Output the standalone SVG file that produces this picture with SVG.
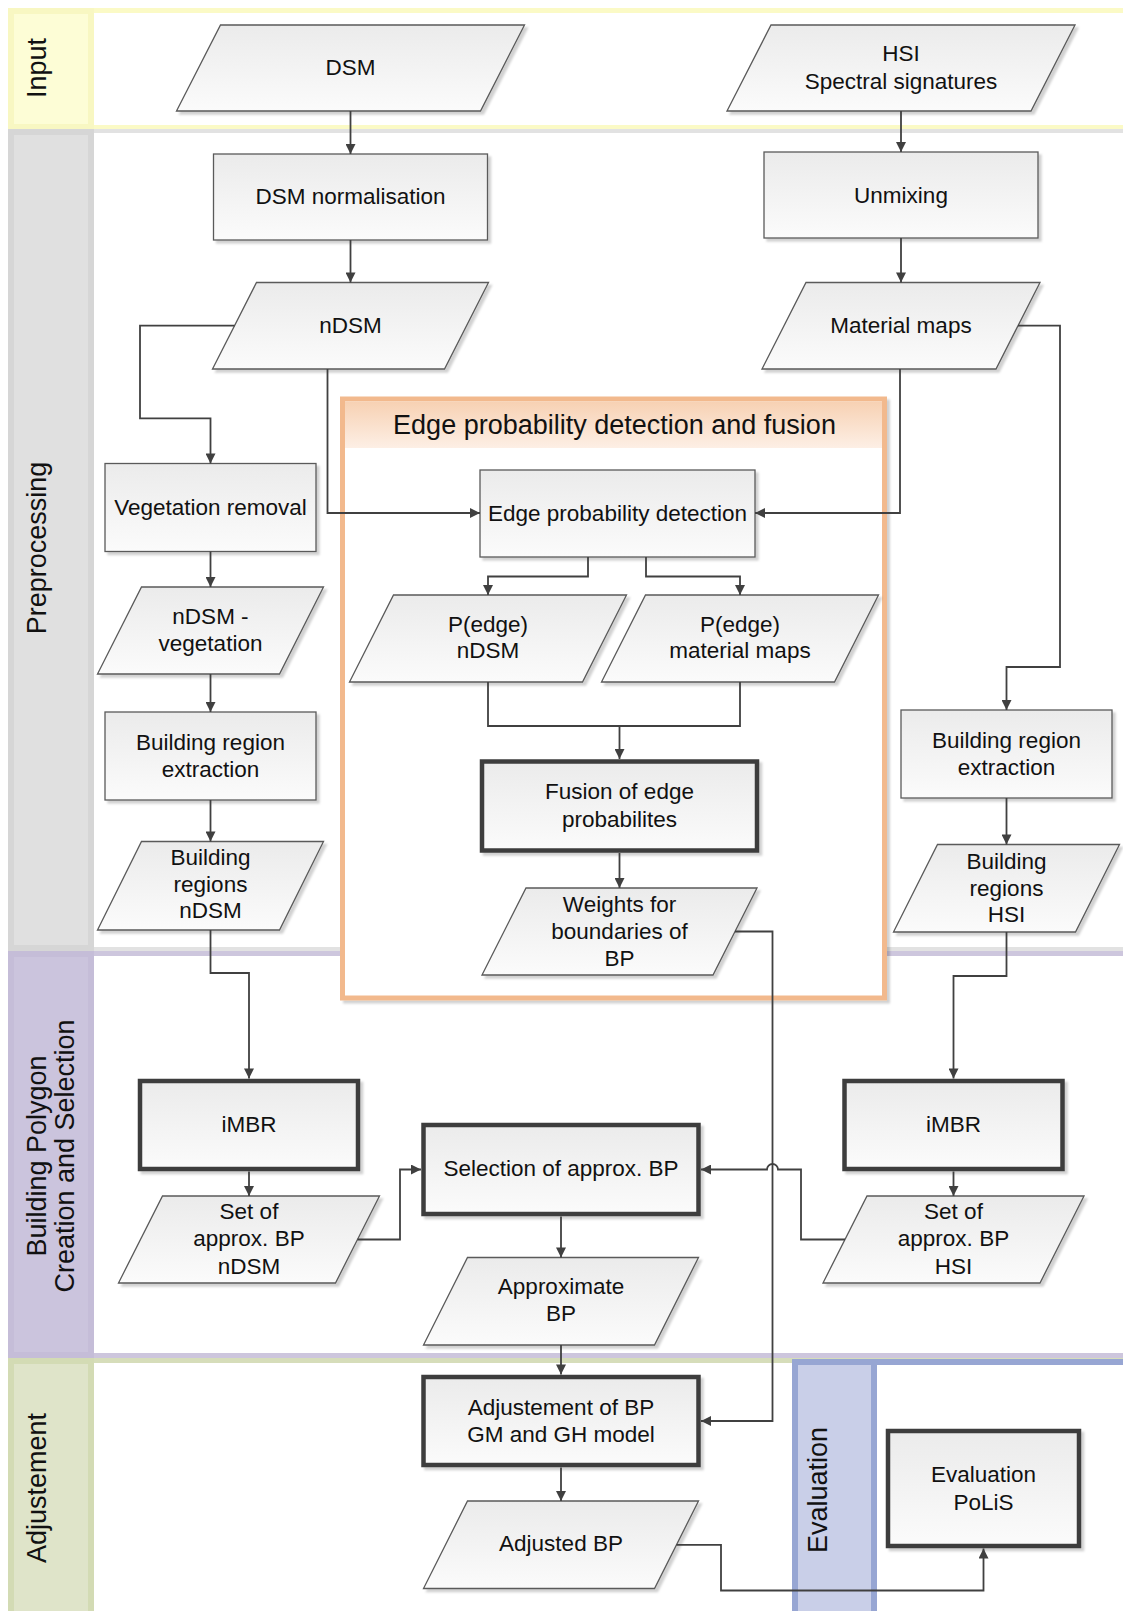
<svg xmlns="http://www.w3.org/2000/svg" width="1123" height="1611" viewBox="0 0 1123 1611">
<defs>
<linearGradient id="gf" x1="0" y1="0" x2="0" y2="1"><stop offset="0" stop-color="#ebebeb"/><stop offset="1" stop-color="#fbfbfb"/></linearGradient>
<linearGradient id="gh" x1="0" y1="0" x2="0" y2="1"><stop offset="0" stop-color="#f7d1b3"/><stop offset="1" stop-color="#fdefe5"/></linearGradient>
<filter id="sh" x="-5%" y="-5%" width="115%" height="120%"><feDropShadow dx="3" dy="3" stdDeviation="1" flood-color="#000" flood-opacity="0.18"/></filter>
<marker id="ah" viewBox="0 0 10 10" refX="10" refY="5" markerWidth="11" markerHeight="10" orient="auto" markerUnits="userSpaceOnUse"><path d="M0,0 L10,5 L0,10 z" fill="#404040"/></marker>
</defs>
<style>
.t{font-family:"Liberation Sans",Arial,sans-serif;font-size:22.5px;fill:#111;text-anchor:middle}
.lt{font-family:"Liberation Sans",Arial,sans-serif;font-size:27px;fill:#111;text-anchor:middle}
.n{fill:url(#gf);stroke:#5a5a5a;stroke-width:1.3;filter:url(#sh)}
.k{fill:url(#gf);stroke:#3d3d3d;stroke-width:4.5;filter:url(#sh)}
.c{fill:none;stroke:#404040;stroke-width:1.8}
.a{marker-end:url(#ah)}
</style>
<rect width="1123" height="1611" fill="#fff"/>
<g id="lanes">
<g id="lane-input">
<rect x="10.5" y="10.5" width="1125" height="117" fill="#fff" stroke="#fbfac6" stroke-width="5"/>
<rect x="11" y="11" width="80" height="116" fill="#fdfdd6" stroke="#f8f7c2" stroke-width="6"/>
<text class="lt" transform="translate(45.5,68) rotate(-90)">Input</text>
</g>
<g id="lane-pre">
<rect x="10.5" y="131" width="1125" height="818" fill="#fff" stroke="#e2e2e2" stroke-width="4"/>
<rect x="11" y="132" width="80" height="816" fill="#e0e0e0" stroke="#d6d6d6" stroke-width="6"/>
<text class="lt" transform="translate(45.5,548) rotate(-90)">Preprocessing</text>
</g>
<g id="lane-bp">
<rect x="10.5" y="953.5" width="1125" height="402" fill="#fff" stroke="#cdc6dd" stroke-width="5"/>
<rect x="11" y="954" width="80" height="401" fill="#cbc4dd" stroke="#c5bdd8" stroke-width="6"/>
<text class="lt" transform="translate(45.5,1156) rotate(-90)">Building Polygon</text>
<text class="lt" transform="translate(74,1156) rotate(-90)">Creation and Selection</text>
</g>
<g id="lane-adj">
<rect x="10.5" y="1360.5" width="1125" height="260" fill="#fff" stroke="#d6ddba" stroke-width="5"/>
<rect x="11" y="1361" width="80" height="260" fill="#dfe4c9" stroke="#d3dbb4" stroke-width="6"/>
<text class="lt" transform="translate(45.5,1488) rotate(-90)">Adjustement</text>
</g>
<g id="lane-eval">
<rect x="795" y="1362" width="340" height="260" fill="#fff" stroke="#97a6d3" stroke-width="6"/>
<rect x="795" y="1362" width="79" height="260" fill="#c9cfe8" stroke="#97a6d3" stroke-width="6"/>
<text class="lt" transform="translate(826.5,1490) rotate(-90)">Evaluation</text>
</g>
</g>
<g id="edge-group">
<rect x="342.5" y="399" width="542" height="599" fill="#fff" stroke="#f2b98d" stroke-width="5" filter="url(#sh)"/>
<rect x="345" y="401.5" width="537" height="46.5" fill="url(#gh)"/>
<text class="lt" x="614.5" y="434">Edge probability detection and fusion</text>
</g>
<g id="nodes">
<g id="dsm"><polygon class="n" points="220.5,25 524.5,25 480.5,111 176.5,111"/><text class="t" x="350.5" y="74.7">DSM</text></g>
<g id="hsi"><polygon class="n" points="771,25 1075,25 1031,111 727,111"/><text class="t" x="901" y="61.3">HSI</text><text class="t" x="901" y="89.1">Spectral signatures</text></g>
<g id="dsm-norm"><rect class="n" x="213.5" y="154" width="274" height="86"/><text class="t" x="350.5" y="204.2">DSM normalisation</text></g>
<g id="unmixing"><rect class="n" x="764" y="152" width="274" height="86"/><text class="t" x="901" y="203.1">Unmixing</text></g>
<g id="ndsm"><polygon class="n" points="256.5,282.5 488.5,282.5 444.5,369 212.5,369"/><text class="t" x="350.5" y="332.6">nDSM</text></g>
<g id="material-maps"><polygon class="n" points="806,282.5 1040,282.5 996,369 762,369"/><text class="t" x="901" y="332.6">Material maps</text></g>
<g id="edge-detect"><rect class="n" x="480" y="470" width="275" height="87"/><text class="t" x="617.5" y="520.6">Edge probability detection</text></g>
<g id="pedge-ndsm"><polygon class="n" points="393.5,595 626.5,595 582.5,682 349.5,682"/><text class="t" x="488" y="631.6">P(edge)</text><text class="t" x="488" y="658.3">nDSM</text></g>
<g id="pedge-mm"><polygon class="n" points="645.5,595 878.5,595 834.5,682 601.5,682"/><text class="t" x="740" y="631.6">P(edge)</text><text class="t" x="740" y="658.3">material maps</text></g>
<g id="fusion"><rect class="k" x="482" y="761.5" width="275" height="89"/><text class="t" x="619.5" y="799.1">Fusion of edge</text><text class="t" x="619.5" y="826.8">probabilites</text></g>
<g id="weights"><polygon class="n" points="526,888 757,888 713,975 482,975"/><text class="t" x="619.5" y="912.1">Weights for</text><text class="t" x="619.5" y="938.9">boundaries of</text><text class="t" x="619.5" y="965.5">BP</text></g>
<g id="veg-removal"><rect class="n" x="105" y="463.5" width="211" height="88"/><text class="t" x="210.5" y="514.5">Vegetation removal</text></g>
<g id="ndsm-veg"><polygon class="n" points="141.5,587 323.5,587 279.5,674 97.5,674"/><text class="t" x="210.5" y="624.4">nDSM -</text><text class="t" x="210.5" y="651.1">vegetation</text></g>
<g id="bre-left"><rect class="n" x="105" y="712" width="211" height="88"/><text class="t" x="210.5" y="749.8">Building region</text><text class="t" x="210.5" y="776.5">extraction</text></g>
<g id="br-ndsm"><polygon class="n" points="141.5,841.5 323.5,841.5 279.5,930 97.5,930"/><text class="t" x="210.5" y="864.9">Building</text><text class="t" x="210.5" y="891.6">regions</text><text class="t" x="210.5" y="918.3">nDSM</text></g>
<g id="bre-right"><rect class="n" x="901" y="710" width="211" height="88"/><text class="t" x="1006.5" y="747.7">Building region</text><text class="t" x="1006.5" y="775.4">extraction</text></g>
<g id="br-hsi"><polygon class="n" points="937.5,844.5 1119.5,844.5 1075.5,932 893.5,932"/><text class="t" x="1006.5" y="868.9">Building</text><text class="t" x="1006.5" y="895.7">regions</text><text class="t" x="1006.5" y="922.4">HSI</text></g>
<g id="imbr-left"><rect class="k" x="140" y="1081" width="218" height="88"/><text class="t" x="249" y="1132">iMBR</text></g>
<g id="imbr-right"><rect class="k" x="844.5" y="1081" width="218" height="88"/><text class="t" x="953.5" y="1132">iMBR</text></g>
<g id="selection"><rect class="k" x="423.5" y="1125" width="275" height="89"/><text class="t" x="561" y="1176.2">Selection of approx. BP</text></g>
<g id="set-ndsm"><polygon class="n" points="162.5,1196 379.5,1196 335.5,1283 118.5,1283"/><text class="t" x="249" y="1219.3">Set of</text><text class="t" x="249" y="1246">approx. BP</text><text class="t" x="249" y="1273.8">nDSM</text></g>
<g id="set-hsi"><polygon class="n" points="867,1196 1084,1196 1040,1283 823,1283"/><text class="t" x="953.5" y="1219.3">Set of</text><text class="t" x="953.5" y="1246">approx. BP</text><text class="t" x="953.5" y="1273.8">HSI</text></g>
<g id="approx-bp"><polygon class="n" points="467.5,1257.5 698.5,1257.5 654.5,1345 423.5,1345"/><text class="t" x="561" y="1294.3">Approximate</text><text class="t" x="561" y="1321">BP</text></g>
<g id="adjustement"><rect class="k" x="423.5" y="1377" width="275" height="88"/><text class="t" x="561" y="1414.5">Adjustement of BP</text><text class="t" x="561" y="1442.3">GM and GH model</text></g>
<g id="adjusted-bp"><polygon class="n" points="467.5,1501 698.5,1501 654.5,1588.5 423.5,1588.5"/><text class="t" x="561" y="1551.2">Adjusted BP</text></g>
<g id="polis"><rect class="k" x="888" y="1431" width="191" height="115"/><text class="t" x="983.5" y="1482.4">Evaluation</text><text class="t" x="983.5" y="1510.1">PoLiS</text></g>
</g>
<g id="connectors">
<path class="c a" d="M350.5,111 V154"/>
<path class="c a" d="M901,111 V152"/>
<path class="c a" d="M350.5,240 V282.5"/>
<path class="c a" d="M901,238 V282.5"/>
<path class="c a" d="M234.5,325.7 H140 V418.3 H210.5 V463.5"/>
<path class="c a" d="M327.5,369 V513 H480"/>
<path class="c a" d="M900,369 V513 H755"/>
<path class="c a" d="M1018,325.7 H1060 V667 H1006.5 V710"/>
<path class="c a" d="M588,557 V576.5 H488 V595"/>
<path class="c a" d="M646,557 V576.5 H740 V595"/>
<path class="c" d="M488,682 V726 H740 V682"/>
<path class="c a" d="M619.5,726 V759"/>
<path class="c a" d="M619.5,853 V888"/>
<path class="c a" d="M210.5,551.5 V587"/>
<path class="c a" d="M210.5,674 V712"/>
<path class="c a" d="M210.5,800 V841.5"/>
<path class="c a" d="M1006.5,798 V844.5"/>
<path class="c a" d="M210.5,930 V973 H249 V1078.5"/>
<path class="c a" d="M1006.5,932 V976 H953.5 V1078.5"/>
<path class="c a" d="M249,1171.5 V1196"/>
<path class="c a" d="M953.5,1171.5 V1196"/>
<path class="c a" d="M357.5,1239.5 H400 V1169.5 H421"/>
<path class="c a" d="M845,1239.5 H801 V1169.5 H778 A5.5,5.5 0 0 0 767,1169.5 H701"/>
<path class="c a" d="M735,931.5 H772.5 V1421 H701"/>
<path class="c a" d="M561,1216.5 V1257.5"/>
<path class="c a" d="M561,1345 V1374.5"/>
<path class="c a" d="M561,1467.5 V1501"/>
<path class="c a" d="M676.5,1544.8 H721 V1590.5 H983.5 V1548.5"/>
</g>
</svg>
